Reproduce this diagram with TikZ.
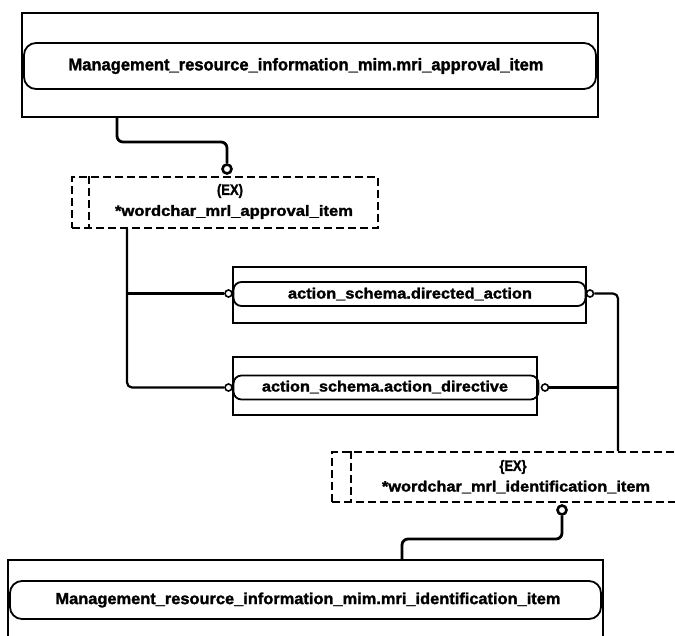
\documentclass[tikz,border=0pt]{standalone}
\usepackage{fontspec}
\setmainfont{Liberation Sans}
\newfontfamily\heavyfont{Liberation Sans Bold}[FakeBold=1.6]
\usepackage{graphicx}
\newcommand{\lbl}[3]{\resizebox{#1pt}{\height}{\fontsize{#2}{#2}\heavyfont #3}}
\begin{document}
\begin{tikzpicture}[x=1pt,y=-1pt,
  outerbox/.style={draw,line width=1.8pt,rectangle,inner sep=0pt},
  entbox/.style={draw,line width=1.8pt,rectangle,rounded corners=#1,inner sep=0pt},
  entbox/.default=10pt,
  selbox/.style={draw,line width=1.8pt,dash pattern=on 8pt off 4pt,rectangle,inner sep=0pt},
  txt/.style={inner sep=0pt,anchor=center},
  ocirc/.style={draw,circle,line width=2.6pt,minimum size=9pt,inner sep=0pt,fill=white},
  scirc/.style={draw,circle,line width=1.6pt,minimum size=7pt,inner sep=0pt,fill=white},
  conn/.style={line width=2.8pt,rounded corners=6pt},
  link/.style={line width=2.2pt,rounded corners=5pt}]
\useasboundingbox (0,0) rectangle (675,635);
\clip (0,0) rectangle (675,635);

% approval item entity
\node[outerbox,minimum width=576,minimum height=104] (apprOuter) at (310,65) {};
\node[entbox=12pt,minimum width=572,minimum height=46] (appr) at (310,66) {};
\node[txt] (apprTxt) at (306,66) {\lbl{475}{17}{Management\_resource\_information\_mim.mri\_approval\_item}};

% approval select type
\node[selbox,minimum width=306,minimum height=51] (sel1) at (225,202.5) {};
\draw[line width=1.8pt,dash pattern=on 8pt off 4pt] (sel1.north west) ++(18,0) coordinate (s1a) -- (s1a |- sel1.south);
\node[txt] (sel1ex) at (230,191) {\lbl{26}{15}{(EX)}};
\node[txt] (sel1name) at (234,212) {\lbl{238}{15}{*wordchar\_mrl\_approval\_item}};

% directed action entity
\node[outerbox,minimum width=353,minimum height=56] (daOuter) at (409.5,295) {};
\node[entbox=8pt,minimum width=352,minimum height=24] (da) at (409.5,294) {};
\node[txt] (daTxt) at (410,294) {\lbl{244}{15}{action\_schema.directed\_action}};

% action directive entity
\node[outerbox,minimum width=304,minimum height=58] (adOuter) at (385,386) {};
\node[entbox=8pt,minimum width=305,minimum height=24] (ad) at (386,387.5) {};
\node[txt] (adTxt) at (385,387) {\lbl{246}{15}{action\_schema.action\_directive}};

% identification select type
\node[selbox,minimum width=368,minimum height=50] (sel2) at (516,477) {};
\draw[line width=1.8pt,dash pattern=on 8pt off 4pt] (sel2.north west) ++(20,0) coordinate (s2a) -- (s2a |- sel2.south);
\node[txt] (sel2ex) at (513,467) {\lbl{27}{15}{\{EX\}}};
\node[txt] (sel2name) at (516,487) {\lbl{268}{15}{*wordchar\_mrl\_identification\_item}};

% identification item entity
\node[outerbox,minimum width=595,minimum height=110,anchor=north] (idOuter) at (305.5,559) {};
\node[entbox=12pt,minimum width=591,minimum height=38] (id) at (305.5,600) {};
\node[txt] (idTxt) at (308,600) {\lbl{505}{16}{Management\_resource\_information\_mim.mri\_identification\_item}};

% end markers
\node[ocirc] (c1) at (227,169) {};
\node[ocirc] (c2) at (562,510) {};
\node[scirc] (daL) at (228.5,293.5) {};
\node[scirc] (daR) at (590,293.5) {};
\node[scirc] (adL) at (228.5,387.5) {};
\node[scirc] (adR) at (545,387.5) {};

% bend points
\coordinate (k1) at (117,142);
\coordinate (k2) at (127,387.5);
\coordinate (k3) at (618,293.5);
\coordinate (k4) at (402,539);

% approval item to its select type
\draw[conn] (k1 |- apprOuter.south) -- (k1) -- (k1 -| c1) -- (c1.north);
% select type members
\draw[link] (k2 |- sel1.south) -- (k2) -- (adL.west);
\draw[link] (k2 |- daL) -- (daL.west);
% identification select members
\draw[link] (daR.east) -- (k3) -- (k3 |- sel2.north);
\draw[link] (adR.east) -- (adR -| k3);
% identification select to its item
\draw[conn] (c2.south) -- (c2 |- k4) -- (k4) -- (k4 |- idOuter.north);
\end{tikzpicture}
\end{document}
